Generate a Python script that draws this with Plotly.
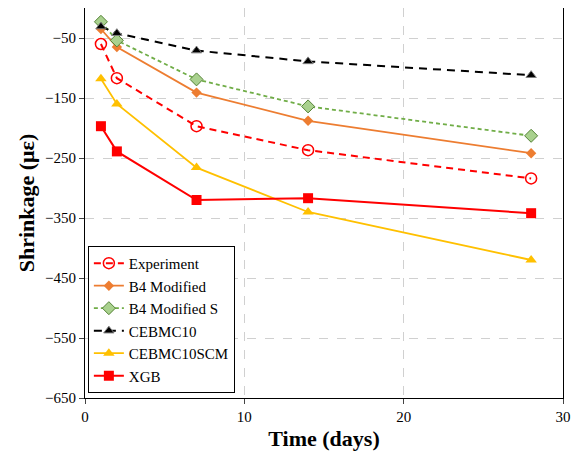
import plotly.graph_objects as go

# shrinkage vs time
days = [1, 2, 7, 14, 28]

experiment = [-60, -117, -197, -237, -284]
b4_modified = [-35, -65, -141, -188, -242]
b4_modified_s = [-23, -54, -119, -164, -213]
cebmc10 = [-31, -42, -71, -89, -112]
cebmc10_scm = [-118, -160, -266, -340, -420]
xgb = [-197, -239, -320, -317, -342]

y_ticks = [-50, -150, -250, -350, -450, -550, -650]
x_ticks = [0, 10, 20, 30]

FONT = "Liberation Serif, Times New Roman, serif"

fig = go.Figure()

fig.add_trace(go.Scatter(
    x=days, y=experiment, name="Experiment", mode="lines+markers",
    line=dict(color="#FF0000", width=2, dash="7px,5px"),
    marker=dict(symbol="circle-open", size=11, color="#FF0000", line=dict(width=1.5)),
))
fig.add_trace(go.Scatter(
    x=days, y=b4_modified, name="B4 Modified", mode="lines+markers",
    line=dict(color="#ED7D31", width=1.8),
    marker=dict(symbol="diamond", size=8, color="#ED7D31"),
))
fig.add_trace(go.Scatter(
    x=days, y=b4_modified_s, name="B4 Modified S", mode="lines+markers",
    line=dict(color="#70AD47", width=1.8, dash="4px,3px"),
    marker=dict(symbol="diamond", size=10, color="#A9D18E",
                line=dict(color="#548235", width=1)),
))
fig.add_trace(go.Scatter(
    x=days, y=cebmc10, name="CEBMC10", mode="lines+markers",
    line=dict(color="#000000", width=2, dash="8px,6px"),
    marker=dict(symbol="triangle-up", size=9, color="#000000",
                line=dict(color="#808080", width=1)),
))
fig.add_trace(go.Scatter(
    x=days, y=cebmc10_scm, name="CEBMC10SCM", mode="lines+markers",
    line=dict(color="#FFC000", width=1.8),
    marker=dict(symbol="triangle-up", size=10, color="#FFC000"),
))
fig.add_trace(go.Scatter(
    x=days, y=xgb, name="XGB", mode="lines+markers",
    line=dict(color="#FF0000", width=2),
    marker=dict(symbol="square", size=10, color="#FF0000"),
))

fig.update_xaxes(
    range=[0, 30], tickvals=x_ticks, ticks="outside", ticklen=5,
    showline=True, linecolor="black", linewidth=1.2, mirror=True,
    showgrid=True, gridcolor="#D0D0D0", griddash="dash", zeroline=False,
    tickfont=dict(family=FONT, size=15, color="black"),
    title=dict(text="<b>Time (days)</b>", font=dict(family=FONT, size=22, color="black"),
               standoff=6),
)
fig.update_yaxes(
    range=[-650, 0], tickvals=y_ticks, ticks="outside", ticklen=5,
    showline=True, linecolor="black", linewidth=1.2, mirror=True,
    showgrid=True, gridcolor="#D0D0D0", griddash="dash", zeroline=False,
    tickfont=dict(family=FONT, size=15, color="black"),
    title=dict(text="<b>Shrinkage (με)</b>", font=dict(family=FONT, size=22, color="black"),
               standoff=4),
)

# page body adds an 8px offset, so the figure is sized to fit the window
fig.update_layout(
    width=576, height=454,
    margin=dict(l=77, r=21, t=0, b=64),
    plot_bgcolor="white", paper_bgcolor="white",
    font=dict(family=FONT, color="black"),
    legend=dict(
        x=0.006, y=0.013, xanchor="left", yanchor="bottom",
        bgcolor="white", bordercolor="black", borderwidth=1,
        font=dict(family=FONT, size=15, color="black"),
        tracegroupgap=0,
    ),
)

fig.write_html("out.html")
